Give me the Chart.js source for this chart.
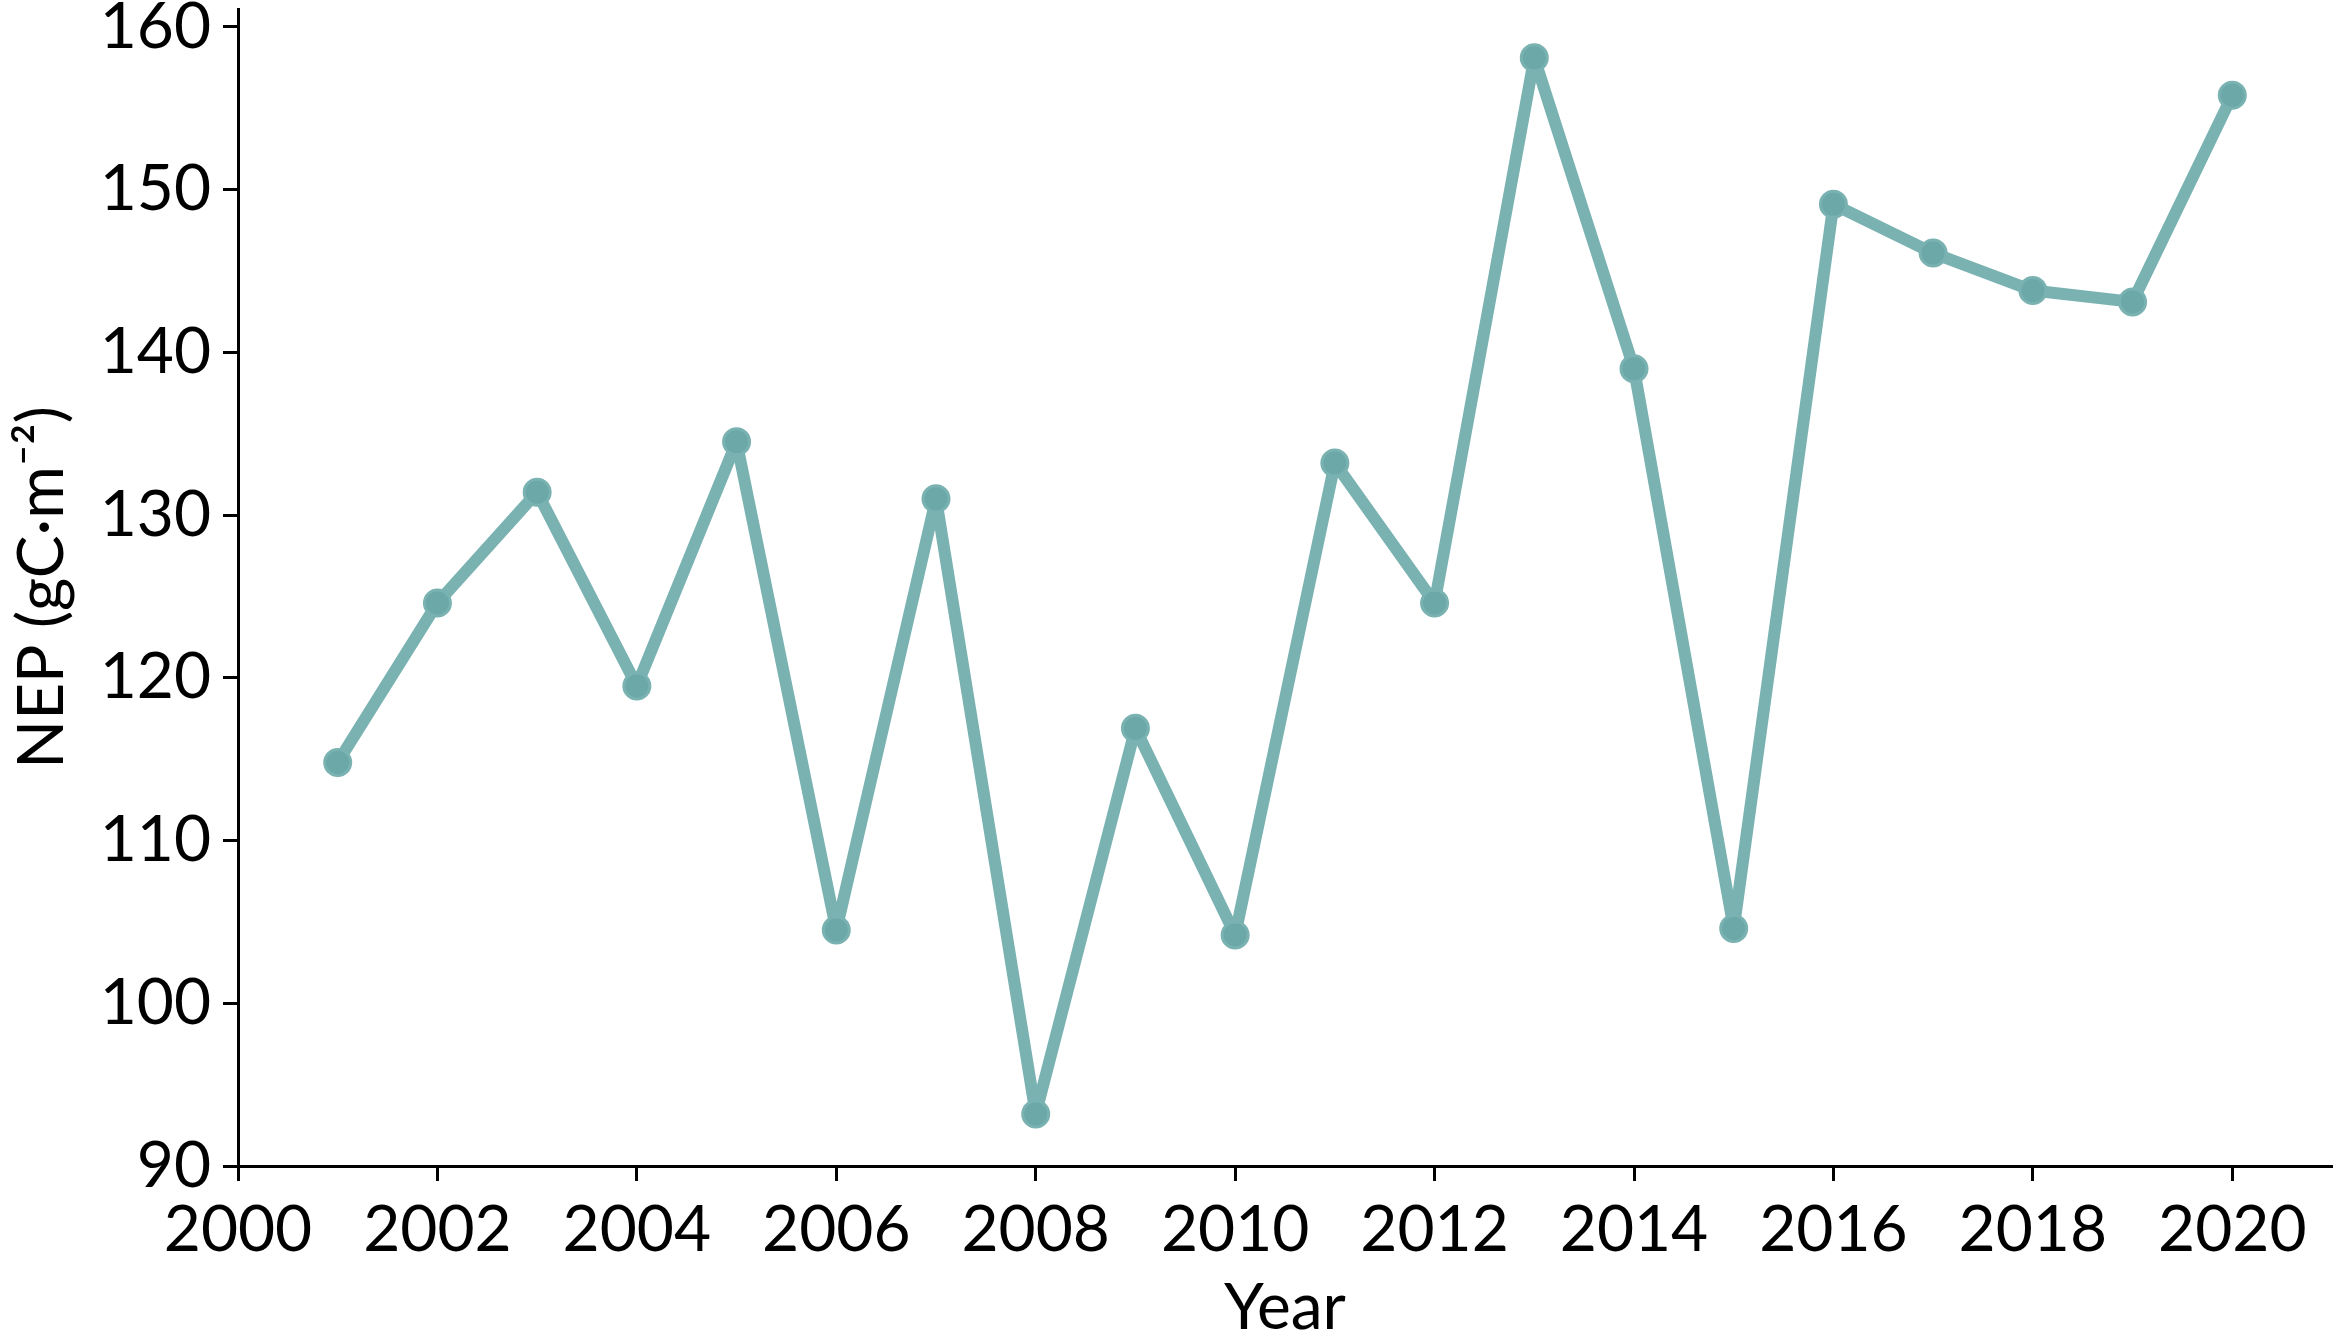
<!DOCTYPE html>
<html>
<head>
<meta charset="utf-8">
<script src="https://cdn.jsdelivr.net/npm/chart.js@4.4.1/dist/chart.umd.min.js"></script>
<style>
  html, body { margin: 0; padding: 0; background: #fff; }
  #wrap { width: 2336px; height: 1336px; }
</style>
</head>
<body>
<div id="wrap"><canvas id="nepChart" width="2336" height="1336"></canvas></div>
<script>
// Annual NEP values
const years = [2001, 2002, 2003, 2004, 2005, 2006, 2007, 2008, 2009, 2010,
               2011, 2012, 2013, 2014, 2015, 2016, 2017, 2018, 2019, 2020];
const nepValues = [114.8, 124.6, 131.4, 119.5, 134.5, 104.5, 131.0, 93.2, 116.9, 104.2,
                   133.2, 124.6, 158.1, 139.0, 104.6, 149.1, 146.1, 143.8, 143.1, 155.8];
const xTickValues = [2000, 2002, 2004, 2006, 2008, 2010, 2012, 2014, 2016, 2018, 2020];
const yTickValues = [90, 100, 110, 120, 130, 140, 150, 160];

const FONT = "Lato, 'Open Sans', sans-serif";
const lineColor = "rgb(122, 178, 178)";
const markerFill = "rgb(108, 168, 168)";

// Keep only the listed tick values (explicit min/max would add extra ticks)
function keepTicks(values) {
  return (scale) => {
    scale.ticks = values.map(v => ({ value: v }));
  };
}

const points = years.map((y, i) => ({ x: y, y: nepValues[i] }));

new Chart(document.getElementById("nepChart"), {
  type: "line",
  data: {
    datasets: [{
      data: points,
      borderColor: lineColor,
      borderWidth: 12,
      borderJoinStyle: "round",
      borderCapStyle: "round",
      pointRadius: 13,
      pointBackgroundColor: markerFill,
      pointBorderColor: lineColor,
      pointBorderWidth: 3,
      tension: 0
    }]
  },
  options: {
    responsive: false,
    animation: false,
    devicePixelRatio: 1,
    // no extra room for the markers, the axes sit at fixed spots
    layout: { autoPadding: false, padding: { top: 9, right: 4, left: 0, bottom: 0 } },
    plugins: {
      legend: { display: false },
      tooltip: { enabled: false }
    },
    scales: {
      x: {
        type: "linear",
        min: 2000,
        max: 2021,
        afterBuildTicks: keepTicks(xTickValues),
        afterFit: (scale) => { scale.height = 170; },
        grid: {
          drawOnChartArea: false,
          drawTicks: true,
          tickLength: 15,
          tickWidth: 3,
          tickColor: "#000"
        },
        border: { display: true, color: "#000", width: 3 },
        ticks: {
          color: "#000",
          padding: 11,
          maxRotation: 0,
          font: { family: FONT, size: 64 },
          callback: (v) => String(v)
        },
        title: {
          display: true,
          text: "Year",
          color: "#000",
          font: { family: FONT, size: 64, lineHeight: 1 },
          padding: { top: 0, bottom: -4 }
        }
      },
      y: {
        min: 90,
        max: 161.1,
        afterBuildTicks: keepTicks(yTickValues),
        afterFit: (scale) => {
          scale.width = 238;
          // labels may overhang the axis ends, like in the figure
          scale.paddingTop = 0;
          scale.paddingBottom = 0;
        },
        grid: {
          drawOnChartArea: false,
          drawTicks: true,
          tickLength: 15,
          tickWidth: 3,
          tickColor: "#000"
        },
        border: { display: true, color: "#000", width: 3 },
        ticks: {
          color: "#000",
          padding: 12,
          font: { family: FONT, size: 64 },
          callback: (v) => String(v)
        },
        title: {
          display: true,
          text: "NEP (gC·m⁻²)",
          color: "#000",
          font: { family: FONT, size: 64, lineHeight: 1 },
          padding: { top: 10, bottom: 0 }
        }
      }
    }
  }
});
</script>
</body>
</html>
